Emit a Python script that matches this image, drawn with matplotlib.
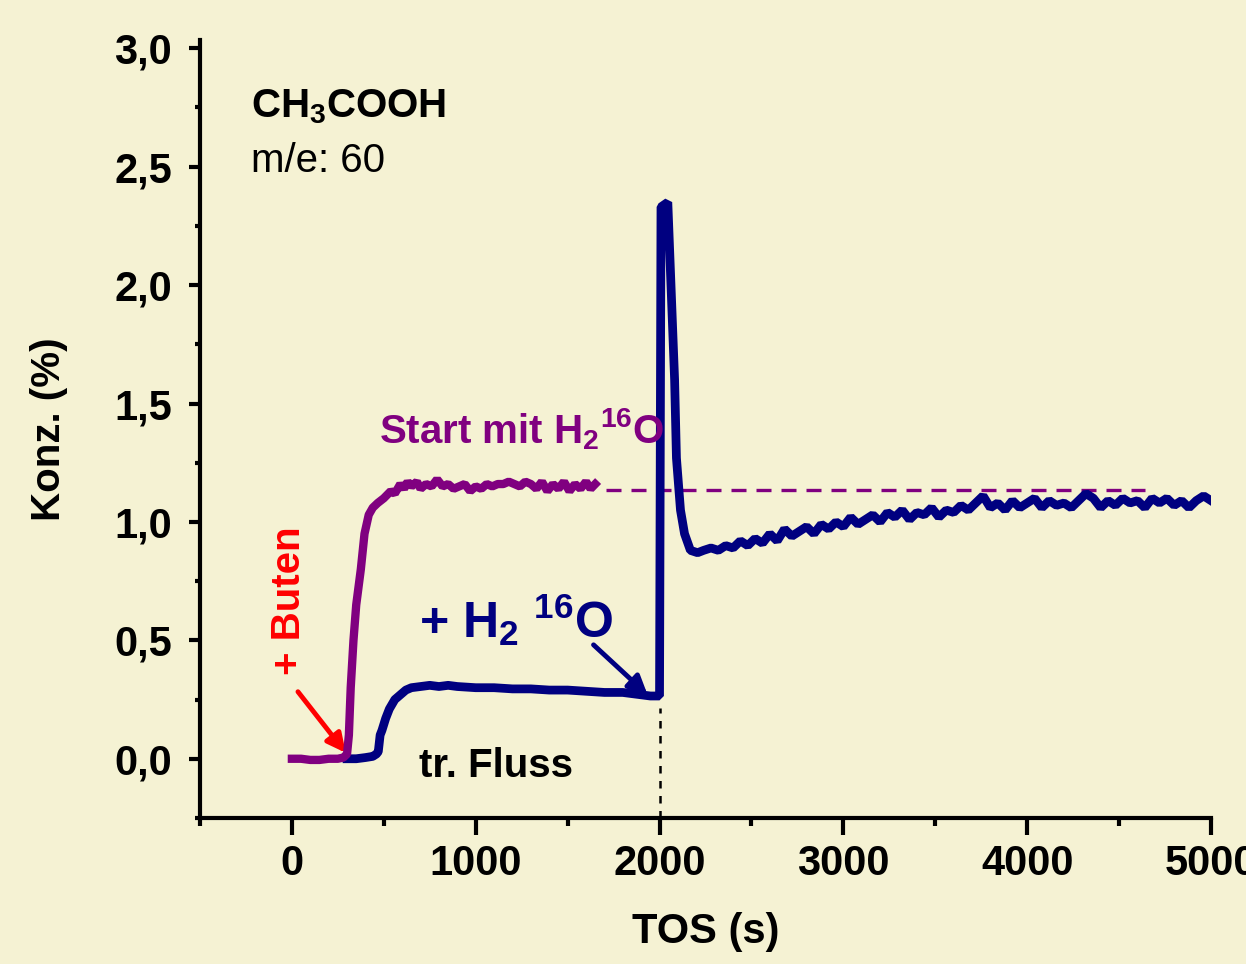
import matplotlib
matplotlib.use("Agg")
import matplotlib.pyplot as plt
from matplotlib.ticker import MultipleLocator, FuncFormatter

# background / colours
bg = '#F5F2D3'
purple = '#800080'
navy = '#000080'

# purple curve: start with H2 16O
purple_x = [0, 50, 100, 150, 200, 250, 280, 300, 310, 320, 335, 350, 375, 395, 418, 440,
            467, 500, 538, 560, 590, 610, 630, 650, 680, 700, 730, 760, 790, 820, 850,
            880, 910, 940, 970, 1000, 1030, 1060, 1090, 1120, 1150, 1180, 1210, 1240,
            1270, 1300, 1330, 1360, 1390, 1420, 1450, 1480, 1510, 1540, 1570, 1600,
            1625, 1650]
purple_y = [0.0, 0.0, -0.005, -0.005, 0.0, 0.0, 0.005, 0.02, 0.1, 0.3, 0.5, 0.65, 0.8, 0.95,
            1.03, 1.06, 1.08, 1.10, 1.13, 1.12, 1.16, 1.14, 1.17, 1.15, 1.17, 1.14, 1.16,
            1.15, 1.18, 1.15, 1.16, 1.14, 1.15, 1.16, 1.13, 1.15, 1.14, 1.16, 1.15, 1.16,
            1.16, 1.17, 1.16, 1.15, 1.17, 1.16, 1.14, 1.17, 1.13, 1.16, 1.14, 1.17, 1.13,
            1.16, 1.14, 1.17, 1.14, 1.16]

# navy curve: dry flow, then + H2 16O at 2000 s
blue_x = [300, 350, 400, 440, 460, 470, 480, 490, 510, 530, 560, 590, 620, 650, 700, 750,
          800, 850, 900, 1000, 1100, 1200, 1300, 1400, 1500, 1600, 1700, 1800, 1900, 1950,
          2000, 2008, 2045, 2082, 2092, 2114, 2136, 2168, 2207,
          2240, 2280, 2320, 2360, 2400, 2440, 2480, 2520, 2560, 2600, 2640, 2680, 2720,
          2760, 2800, 2840, 2880, 2920, 2960, 3000, 3040, 3080, 3120, 3160, 3200, 3240,
          3280, 3320, 3360, 3400, 3440, 3480, 3520, 3560, 3600, 3640, 3680, 3720, 3760,
          3800, 3840, 3880, 3920, 3960, 4000, 4040, 4080, 4120, 4160, 4200, 4240, 4280,
          4320, 4360, 4400, 4440, 4480, 4520, 4560, 4600, 4640, 4680, 4720, 4760, 4800,
          4840, 4880, 4920, 4960, 5000]
blue_y = [0.0, 0.0, 0.005, 0.01, 0.02, 0.03, 0.10, 0.12, 0.17, 0.21, 0.25, 0.27, 0.29, 0.30,
          0.305, 0.31, 0.305, 0.31, 0.305, 0.30, 0.30, 0.295, 0.295, 0.29, 0.29, 0.285,
          0.28, 0.28, 0.27, 0.265, 0.265, 2.33, 2.35, 1.60, 1.27, 1.05, 0.95, 0.88, 0.87,
          0.88, 0.89, 0.88, 0.90, 0.89, 0.92, 0.90, 0.93, 0.91, 0.95, 0.92, 0.97, 0.94,
          0.96, 0.98, 0.95, 0.99, 0.97, 1.00, 0.98, 1.02, 0.99, 1.01, 1.03, 1.00, 1.04,
          1.02, 1.05, 1.01, 1.04, 1.03, 1.06, 1.02, 1.05, 1.04, 1.07, 1.05, 1.08, 1.11,
          1.06, 1.08, 1.05, 1.09, 1.06, 1.08, 1.10, 1.06, 1.09, 1.07, 1.08, 1.06, 1.09,
          1.12, 1.10, 1.06, 1.09, 1.07, 1.10, 1.08, 1.09, 1.06, 1.10, 1.08, 1.10, 1.07,
          1.09, 1.06, 1.09, 1.11, 1.09]

# reference level of the purple plateau
plateau_level = 1.135
plateau_span = [1707, 4641]

plt.rcParams['font.family'] = ['Liberation Sans', 'DejaVu Sans']
plt.rcParams['mathtext.fontset'] = 'custom'
plt.rcParams['mathtext.rm'] = 'Liberation Sans'
plt.rcParams['mathtext.bf'] = 'Liberation Sans:bold'
plt.rcParams['mathtext.default'] = 'bf'

fig = plt.figure(figsize=(12.46, 9.64), dpi=100, facecolor=bg)
ax = fig.add_axes([0.1605, 0.1515, 0.8114, 0.807])
ax.set_facecolor(bg)

ax.plot(blue_x, blue_y, color=navy, lw=6.3, solid_joinstyle='bevel', zorder=3)
ax.plot(purple_x, purple_y, color=purple, lw=6.0, solid_joinstyle='bevel', zorder=4)
ax.plot(plateau_span, [plateau_level, plateau_level], color=purple, lw=2.4,
        dashes=(4.5, 3), zorder=2)
ax.plot([2000, 2000], [-0.25, 0.215], color='black', lw=1.8, dashes=(3, 3), zorder=2)

ax.set_xlim(-500, 5000)
ax.set_ylim(-0.25, 3.035)

for side in ['top', 'right']:
    ax.spines[side].set_visible(False)
for side in ['left', 'bottom']:
    ax.spines[side].set_linewidth(3)

ax.xaxis.set_major_locator(MultipleLocator(1000))
ax.xaxis.set_minor_locator(MultipleLocator(500))
ax.yaxis.set_major_locator(MultipleLocator(0.5))
ax.yaxis.set_minor_locator(MultipleLocator(0.25))
ax.xaxis.set_major_formatter(FuncFormatter(lambda v, p: '%d' % v if v >= 0 else ''))
ax.yaxis.set_major_formatter(FuncFormatter(lambda v, p: ('%.1f' % v).replace('.', ',')))

ax.tick_params(axis='x', which='major', length=12, width=3, pad=7, direction='out')
ax.tick_params(axis='x', which='minor', length=6, width=3, direction='out')
ax.tick_params(axis='y', which='major', length=8, width=3, pad=12, direction='out')
ax.tick_params(axis='y', which='minor', length=3.5, width=3, direction='out')
for lab in ax.get_xticklabels() + ax.get_yticklabels():
    lab.set_fontsize(30)
    lab.set_fontweight('bold')

ax.set_xlabel('TOS (s)', fontsize=30, fontweight='bold')
ax.xaxis.set_label_coords(0.50, -0.121)
ax.set_ylabel('Konz. (%)', fontsize=29, fontweight='bold')
ax.yaxis.set_label_coords(-0.131, 0.5)

# annotations
ax.text(-223, 2.71, r'CH$_3$COOH', fontsize=29, fontweight='bold', color='black')
ax.text(-223, 2.477, 'm/e: 60', fontsize=29, color='black')
ax.text(473, 1.333, r'Start mit H$_2$$^{16}$O', fontsize=29, fontweight='bold', color=purple)
ax.text(690, 0.51, r'+ H$_2$ $^{16}$O', fontsize=36, fontweight='bold', color=navy)
ax.text(690, -0.076, 'tr. Fluss', fontsize=29, fontweight='bold', color='black')
ax.text(-16, 0.354, '+ Buten', fontsize=29, fontweight='bold', color='red',
        rotation=90, ha='center', va='bottom')

ax.annotate('', xy=(293, 0.025), xytext=(33, 0.283),
            arrowprops=dict(arrowstyle='-|>', color='red', lw=3.5, mutation_scale=28,
                            shrinkA=0, shrinkB=0))
ax.annotate('', xy=(1935, 0.27), xytext=(1641, 0.481),
            arrowprops=dict(arrowstyle='-|>', color=navy, lw=3.5, mutation_scale=28,
                            shrinkA=0, shrinkB=0))

fig.savefig('out.png', dpi=100, facecolor=bg)
